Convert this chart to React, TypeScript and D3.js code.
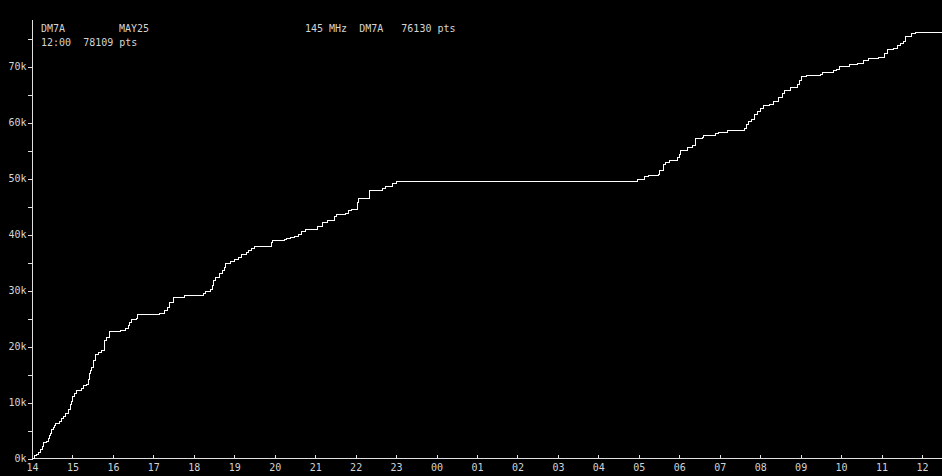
import * as d3 from 'd3';
import React, { useRef, useEffect } from 'react';

const width = 942;
const height = 476;
const margin = {
  left: 32,
  top: 20,
  bottom: 17.5,
};

// x axis: hours from 14:00 on day one to 12:00 the next day
const hourLabels = ['14', '15', '16', '17', '18', '19', '20', '21', '22', '23', '00', '01', '02', '03', '04', '05', '06', '07', '08', '09', '10', '11', '12'];
const yTicks = [0, 5000, 10000, 15000, 20000, 25000, 30000, 35000, 40000, 45000, 50000, 55000, 60000, 65000, 70000, 75000];

// hours since 14:00 and running points total
const hours = [
  0, 0.05, 0.1, 0.15, 0.2, 0.25, 0.28, 0.36, 0.4, 0.43, 0.46, 0.49, 0.53, 0.56, 0.59, 0.67, 0.74, 0.77, 0.84, 0.89,
  0.94, 0.97, 1.01, 1.04, 1.11, 1.22, 1.27, 1.35, 1.4, 1.42, 1.45, 1.48,
  1.52, 1.56, 1.65, 1.71, 1.78, 1.8, 1.85, 1.91, 2.18, 2.31, 2.39, 2.42, 2.47, 2.59, 2.6, 3.16, 3.28, 3.36, 3.41, 3.51,
  3.77, 4.14, 4.23, 4.28, 4.4, 4.45, 4.48, 4.53, 4.63, 4.7, 4.75, 4.78, 4.91, 5.01, 5.11, 5.19, 5.31, 5.34, 5.42, 5.51,
  5.87, 5.92, 5.95, 6.25, 6.28, 6.39, 6.49, 6.58, 6.66, 6.76, 7.05, 7.19, 7.3, 7.47, 7.53, 7.74, 7.83, 7.89, 8.04, 8.08,
  8.34, 8.67, 8.73, 8.92, 9.02, 14.96, 15.15, 15.24, 15.49, 15.52, 15.61, 15.67, 15.75, 15.95, 16.0, 16.04, 16.2, 16.33,
  16.4, 16.58, 16.61, 16.89, 16.97, 17.19, 17.62, 17.65, 17.7, 17.78, 17.85, 17.93, 18.01, 18.08, 18.24, 18.32, 18.46,
  18.56, 18.59, 18.74, 18.92, 18.98, 19.03, 19.15, 19.48, 19.53, 19.81, 19.89, 19.96, 20.2, 20.4, 20.55, 20.68, 20.93,
  21.08, 21.14, 21.29, 21.39, 21.46, 21.54, 21.59, 21.74, 21.84, 22.5,
];
const points = [
  0, 450, 800, 1160, 1520, 2110, 2820, 2950, 3540, 4020, 4500, 5090, 5450, 5930, 6290, 6520, 7110, 7460, 8070, 8790,
  9610, 10090, 11040, 11640, 12110, 12460, 13070, 13180, 14020, 15210, 15800, 16300,
  17500, 18570, 18980, 19290, 19410, 21070, 21550, 22730, 22860, 23160, 23750, 24340, 24820, 24950, 25660, 25840, 26430, 26910, 27860, 28700,
  29050, 29160, 29520, 29880, 30130, 30840, 31790, 32380, 32980, 33570, 34160, 34770, 35230, 35480, 35840, 36430, 36840, 37140, 37450, 37800,
  37860, 38630, 38930, 39050, 39230, 39410, 39640, 39950, 40480, 40840, 41430, 42140, 42500, 43210, 43570, 43800, 44290, 44520, 45710, 46430,
  47800, 48160, 48570, 49050, 49550, 49820, 50360, 50480, 50660, 51430, 52450, 52800, 53210, 53800, 54290, 55000, 55480, 55950,
  57090, 57380, 57630, 58040, 58210, 58520, 58880, 59640, 60130, 60480, 61430, 61910, 62500, 62980, 63210, 63700, 64410,
  65130, 65660, 66200, 66790, 67500, 68210, 68340, 68570, 68870, 69290, 69520, 70000, 70360, 70590, 71070, 71430, 71660,
  72270, 72980, 73210, 73700, 74050, 74520, 75360, 75840, 76130, 76130,
];

const font = '"DejaVu Sans Mono", monospace';
const textColor = '#d4d4d4';

function App() {
  const ref = useRef<SVGSVGElement>(null);

  useEffect(() => {
    draw();
  }, []); // eslint-disable-line react-hooks/exhaustive-deps

  const draw = () => {
    const svg = d3.select(ref.current);
    svg.selectAll('.plot').remove();
    const g = svg.append('g').attr('class', 'plot');

    const axisY = height - margin.bottom;
    const xScale = d3
      .scaleLinear()
      .domain([0, hourLabels.length - 1])
      .range([margin.left, 922]);
    const yScale = d3
      .scaleLinear()
      .domain([0, 80000])
      .range([axisY, axisY - 8 * 56]);

    const xAxis = d3
      .axisBottom(xScale)
      .tickValues(hourLabels.map((_, i) => i))
      .tickFormat((d) => hourLabels[d as number])
      .tickSizeInner(-4)
      .tickSizeOuter(0)
      .tickPadding(5);
    const gx = g.append('g').attr('transform', `translate(0, ${axisY})`).call(xAxis);

    const yAxis = d3
      .axisLeft(yScale)
      .tickValues(yTicks)
      .tickFormat((d) => ((d as number) % 10000 === 0 ? `${(d as number) / 1000}k` : ''))
      .tickSizeInner(5)
      .tickSizeOuter(0)
      .tickPadding(1);
    const gy = g.append('g').attr('transform', `translate(${margin.left + 0.5}, 0)`).call(yAxis);

    [gx, gy].forEach((a) => {
      a.select('.domain').remove();
      a.attr('font-family', font).attr('font-size', 10);
      a.selectAll('line').attr('stroke', '#e0e0e0').attr('shape-rendering', 'crispEdges');
      a.selectAll('text').attr('fill', textColor);
    });

    // axis lines
    g.append('line')
      .attr('x1', margin.left + 0.5)
      .attr('x2', margin.left + 0.5)
      .attr('y1', margin.top)
      .attr('y2', axisY)
      .attr('stroke', '#e0e0e0')
      .attr('shape-rendering', 'crispEdges');
    g.append('line')
      .attr('x1', margin.left)
      .attr('x2', width)
      .attr('y1', axisY)
      .attr('y2', axisY)
      .attr('stroke', '#e0e0e0')
      .attr('shape-rendering', 'crispEdges');

    const line = d3
      .line<number>()
      .x((_, i) => xScale(hours[i]))
      .y((d) => yScale(d))
      .curve(d3.curveStepAfter);

    g.append('path')
      .datum(points)
      .attr('d', line)
      .attr('fill', 'none')
      .attr('stroke', '#ffffff')
      .attr('stroke-width', 1)
      .attr('shape-rendering', 'crispEdges');
  };

  const pre = { whiteSpace: 'pre' as const };

  return (
    <svg
      ref={ref}
      width={width}
      height={height}
      style={{ position: 'absolute', left: 0, top: 0, background: '#000', display: 'block' }}
    >
      <g fontFamily={font} fontSize={10} fill={textColor}>
        <text x={41} y={31.5}>DM7A</text>
        <text x={119} y={31.5}>MAY25</text>
        <text x={305} y={31.5} xmlSpace="preserve" style={pre}>
          {'145 MHz  DM7A   76130 pts'}
        </text>
        <text x={41} y={45.5} xmlSpace="preserve" style={pre}>
          {'12:00  78109 pts'}
        </text>
      </g>
    </svg>
  );
}

export default App;
